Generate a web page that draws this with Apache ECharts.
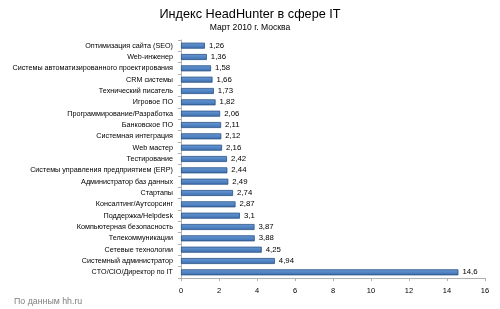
<!DOCTYPE html>
<html><head><meta charset="utf-8">
<script src="https://cdn.jsdelivr.net/npm/echarts@6/dist/echarts.min.js"></script>
<style>html,body{margin:0;padding:0;background:#fff}#c{width:500px;height:309px}</style>
</head><body><div id="c"></div>
<script>
const categories = ["Оптимизация сайта (SEO)","Web-инженер","Системы автоматизированного проектирования","CRM системы","Технический писатель","Игровое ПО","Программирование/Разработка","Банковское ПО","Системная интеграция","Web мастер","Тестирование","Системы управления предприятием (ERP)","Администратор баз данных","Стартапы","Консалтинг/Аутсорсинг","Поддержка/Helpdesk","Компьютерная безопасность","Телекоммуникации","Сетевые технологии","Системный администратор","CTO/CIO/Директор по IT"];
const values = [1.26,1.36,1.58,1.66,1.73,1.82,2.06,2.11,2.12,2.16,2.42,2.44,2.49,2.74,2.87,3.1,3.87,3.88,4.25,4.94,14.6];
const xTicks = [0,2,4,6,8,10,12,14,16];
const chart = echarts.init(document.getElementById('c'));
chart.setOption({
  animation:false,
  title:[
    {text:'Индекс HeadHunter в сфере IT',left:'center',top:3,textStyle:{fontFamily:'Liberation Sans',fontSize:12.7,fontWeight:'normal',color:'#000'}},
    {text:'Март 2010 г. Москва',left:'center',top:18,textStyle:{fontFamily:'Liberation Sans',fontSize:8.6,fontWeight:'normal',color:'#000'}},
    {text:'По данным hh.ru',left:9,top:292,textStyle:{fontFamily:'Liberation Sans',fontSize:8.8,fontWeight:'normal',color:'#7f7f7f'}}
  ],
  grid:{left:181,right:15,top:40,bottom:31,outerBoundsMode:'none',containLabel:false},
  xAxis:{type:'value',min:xTicks[0],max:xTicks[xTicks.length-1],interval:2,
    axisLine:{show:true,lineStyle:{color:'#b0b0b0'}},axisTick:{show:true,length:3,lineStyle:{color:'#b0b0b0'}},
    splitLine:{show:false},
    axisLabel:{fontFamily:'Liberation Sans',fontSize:7.5,color:'#000',margin:9}},
  yAxis:{type:'category',data:categories,inverse:true,
    axisLine:{show:true,lineStyle:{color:'#b0b0b0'}},axisTick:{show:true,length:3,lineStyle:{color:'#b0b0b0'}},
    axisLabel:{interval:0,fontFamily:'Liberation Sans',fontSize:7.2,color:'#000',margin:8}},
  series:[{type:'bar',data:values,barWidth:6,
    itemStyle:{color:new echarts.graphic.LinearGradient(0,0,0,1,[{offset:0,color:'#6a9bd8'},{offset:1,color:'#3c6dad'}]),borderColor:'#2a5084',borderWidth:0.8},
    label:{show:true,position:'right',distance:4,fontFamily:'Liberation Sans',fontSize:7.8,color:'#000',
      formatter:p=>String(p.value).replace('.',',')}}]
});
</script></body></html>
